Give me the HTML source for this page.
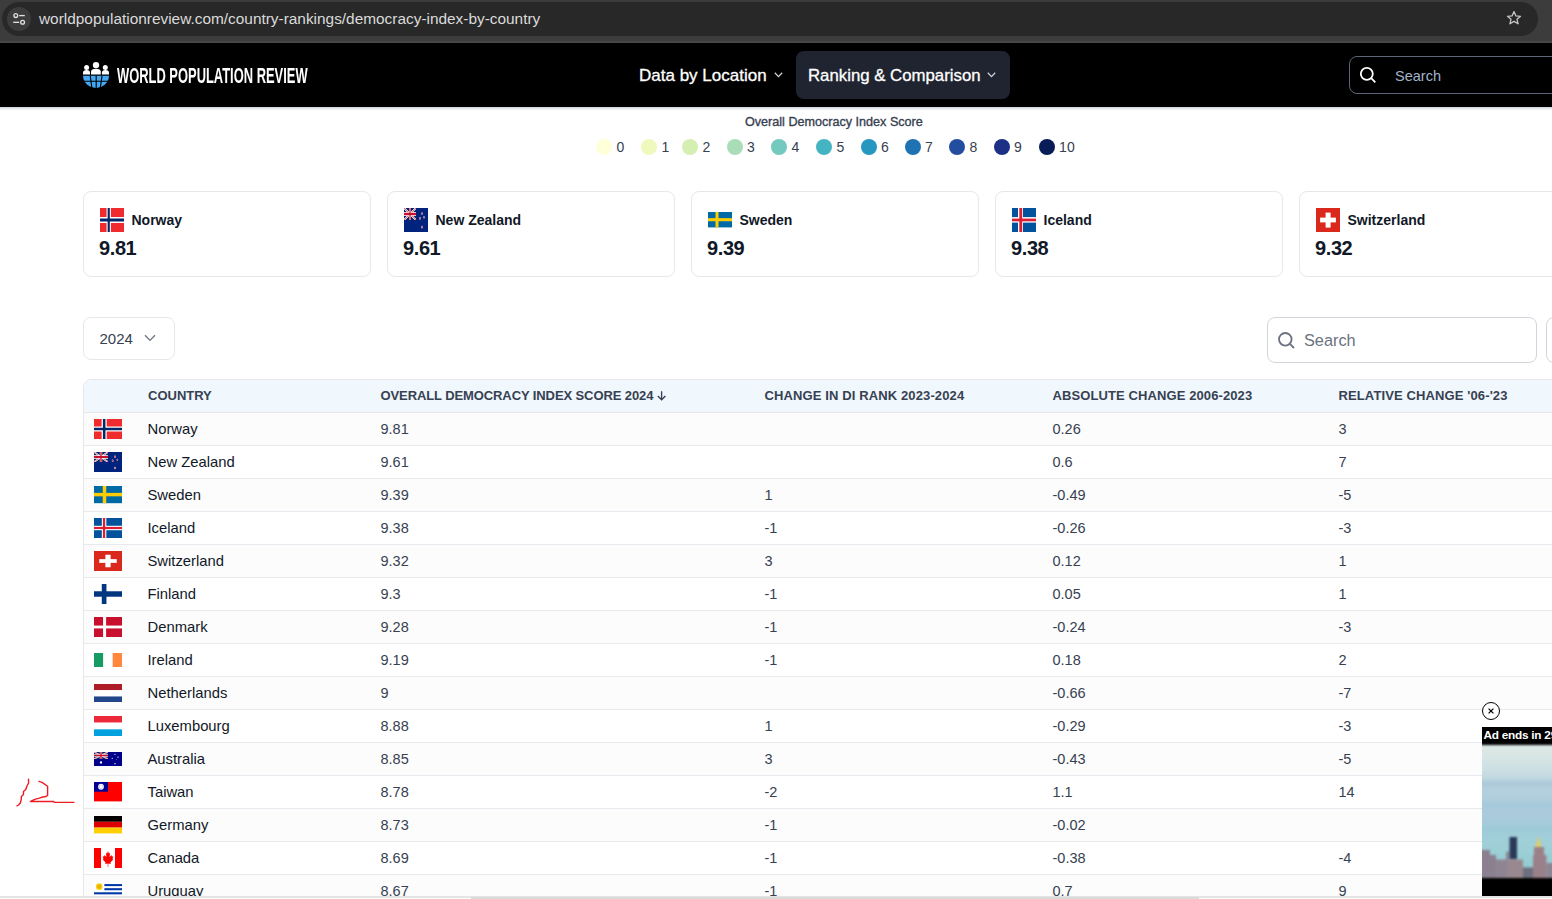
<!DOCTYPE html>
<html><head><meta charset="utf-8"><title>Democracy Index by Country</title><style>
*{box-sizing:border-box;margin:0;padding:0}
html,body{width:1552px;height:899px;overflow:hidden;background:#fff;font-family:"Liberation Sans",sans-serif}
.a{position:absolute}
.t{position:absolute;white-space:nowrap;line-height:1}
</style></head><body>
<div class="a" style="left:0;top:0;width:1552px;height:43px;background:#3c3c3c"></div>
<div class="a" style="left:0;top:41px;width:1552px;height:2px;background:#474747"></div>
<div class="a" style="left:2px;top:2px;width:1536px;height:34px;border-radius:17px;background:#282828"></div>
<div class="a" style="left:7px;top:7px;width:24px;height:24px;border-radius:12px;background:#3c3c3c"></div>
<svg class="a" style="left:11px;top:11px" width="16" height="16" viewBox="0 0 16 16"><circle cx="4.8" cy="4.6" r="1.9" fill="none" stroke="#e3e3e3" stroke-width="1.3"/><path d="M8.2 4.6H13.8" stroke="#e3e3e3" stroke-width="1.3"/><circle cx="11.6" cy="11.3" r="1.9" fill="none" stroke="#e3e3e3" stroke-width="1.3"/><path d="M2.2 11.3H8.2" stroke="#e3e3e3" stroke-width="1.3"/></svg>
<div class="t" style="left:39px;top:11px;font-size:15.4px;color:#dadada">worldpopulationreview.com/country-rankings/democracy-index-by-country</div>
<svg class="a" style="left:1506px;top:10px" width="16" height="16" viewBox="0 0 16 16"><path d="M8 1.6 L9.9 5.9 L14.5 6.3 L11 9.3 L12.1 13.8 L8 11.4 L3.9 13.8 L5 9.3 L1.5 6.3 L6.1 5.9 Z" fill="none" stroke="#c7c7c7" stroke-width="1.3" stroke-linejoin="round"/></svg>
<div class="a" style="left:0;top:43px;width:1552px;height:64px;background:#000"></div>
<div class="a" style="left:0;top:107px;width:1552px;height:4px;background:linear-gradient(#ccd1db,#e3e6ea 35%,#f9f9fa 75%,#fff)"></div>
<svg class="a" style="left:83px;top:61px" width="26" height="27" viewBox="0 0 26 27">
<circle cx="3.6" cy="6.4" r="2.5" fill="#fff"/><circle cx="13" cy="4.1" r="3.2" fill="#fff"/><circle cx="22.3" cy="6.4" r="2.5" fill="#fff"/>
<path d="M0 13.4 V11.6 Q0 9.1 3.5 9.1 Q7 9.1 7 11.6 V13.4 Z" fill="#fff"/>
<path d="M8 13.4 V10.6 Q8 7.7 12.9 7.7 Q17.8 7.7 17.8 10.6 V13.4 Z" fill="#fff"/>
<path d="M18.9 13.4 V11.6 Q18.9 9.1 22.45 9.1 Q26 9.1 26 11.6 V13.4 Z" fill="#fff"/>
<path d="M0 14.8 H26 A13 12.1 0 0 1 0 14.8 Z" fill="#42a8f4"/>
<path d="M0 20.2 H26 M7.25 14.8 L8.9 27 M13.2 14.8 V27 M19 14.8 L17.3 27" stroke="#000" stroke-width="1.15"/>
</svg>
<div class="t" style="left:117px;top:65px;font-size:22px;font-weight:bold;color:#fff;transform:scaleX(0.587);transform-origin:0 0;letter-spacing:0px">WORLD POPULATION REVIEW</div>
<div class="t" style="left:639px;top:67px;font-size:17px;font-weight:normal;color:#fff;-webkit-text-stroke:0.3px #fff">Data by Location</div>
<svg class="a" style="left:774px;top:72px" width="9" height="6" viewBox="0 0 9 6"><path d="M0.8 0.8 L4.5 4.6 L8.2 0.8" fill="none" stroke="#d1d5db" stroke-width="1.3"/></svg>
<div class="a" style="left:796px;top:51px;width:214px;height:48px;border-radius:8px;background:#1f2430"></div>
<div class="t" style="left:808px;top:68px;font-size:16.8px;color:#fff;-webkit-text-stroke:0.3px #fff">Ranking &amp; Comparison</div>
<svg class="a" style="left:987px;top:72px" width="9" height="6" viewBox="0 0 9 6"><path d="M0.8 0.8 L4.5 4.6 L8.2 0.8" fill="none" stroke="#d1d5db" stroke-width="1.3"/></svg>
<div class="a" style="left:1349px;top:56px;width:260px;height:38px;border-radius:8px;border:1px solid #5b6577"></div>
<svg class="a" style="left:1359px;top:66px" width="18" height="18" viewBox="0 0 18 18"><circle cx="7.8" cy="7.8" r="6" fill="none" stroke="#fff" stroke-width="1.8"/><path d="M12.2 12.2 L16.3 16.3" stroke="#fff" stroke-width="1.8"/></svg>
<div class="t" style="left:1395px;top:68.5px;font-size:14.5px;color:#a3b3cc">Search</div>
<div class="t" style="left:745px;top:116px;font-size:12.6px;color:#374151;-webkit-text-stroke:0.35px #374151">Overall Democracy Index Score</div>
<div class="a" style="left:596px;top:139px;width:16px;height:16px;border-radius:50%;background:#ffffd9"></div>
<div class="t" style="left:616.5px;top:140px;font-size:14px;color:#374151">0</div>
<div class="a" style="left:641px;top:139px;width:16px;height:16px;border-radius:50%;background:#eff9bd"></div>
<div class="t" style="left:661.5px;top:140px;font-size:14px;color:#374151">1</div>
<div class="a" style="left:682px;top:139px;width:16px;height:16px;border-radius:50%;background:#d5efb3"></div>
<div class="t" style="left:702.5px;top:140px;font-size:14px;color:#374151">2</div>
<div class="a" style="left:726.5px;top:139px;width:16px;height:16px;border-radius:50%;background:#a9ddb7"></div>
<div class="t" style="left:747.0px;top:140px;font-size:14px;color:#374151">3</div>
<div class="a" style="left:771px;top:139px;width:16px;height:16px;border-radius:50%;background:#73c9bd"></div>
<div class="t" style="left:791.5px;top:140px;font-size:14px;color:#374151">4</div>
<div class="a" style="left:816px;top:139px;width:16px;height:16px;border-radius:50%;background:#45b4c2"></div>
<div class="t" style="left:836.5px;top:140px;font-size:14px;color:#374151">5</div>
<div class="a" style="left:860.5px;top:139px;width:16px;height:16px;border-radius:50%;background:#2897bf"></div>
<div class="t" style="left:881.0px;top:140px;font-size:14px;color:#374151">6</div>
<div class="a" style="left:904.6px;top:139px;width:16px;height:16px;border-radius:50%;background:#2073b2"></div>
<div class="t" style="left:925.1px;top:140px;font-size:14px;color:#374151">7</div>
<div class="a" style="left:949px;top:139px;width:16px;height:16px;border-radius:50%;background:#234ea0"></div>
<div class="t" style="left:969.5px;top:140px;font-size:14px;color:#374151">8</div>
<div class="a" style="left:993.6px;top:139px;width:16px;height:16px;border-radius:50%;background:#1c3185"></div>
<div class="t" style="left:1014.1px;top:140px;font-size:14px;color:#374151">9</div>
<div class="a" style="left:1038.6px;top:139px;width:16px;height:16px;border-radius:50%;background:#081d58"></div>
<div class="t" style="left:1059.1px;top:140px;font-size:14px;color:#374151">10</div>
<div class="a" style="left:83px;top:191px;width:288px;height:86px;border:1px solid #e5e7eb;border-radius:8px;background:#fff"></div>
<div class="a" style="left:100px;top:208.0px"><svg width="24" height="24" viewBox="0 0 22 16" preserveAspectRatio="none" style="display:block"><rect width="22" height="16" fill="#ef2b2d"/><rect x="6" width="4" height="16" fill="#fff"/><rect y="6" width="22" height="4" fill="#fff"/><rect x="7" width="2" height="16" fill="#002868"/><rect y="7" width="22" height="2" fill="#002868"/></svg></div>
<div class="t" style="left:131.5px;top:213px;font-size:14px;font-weight:bold;color:#111827">Norway</div>
<div class="t" style="left:99px;top:238px;font-size:20px;font-weight:bold;color:#111827;letter-spacing:-0.4px">9.81</div>
<div class="a" style="left:387px;top:191px;width:288px;height:86px;border:1px solid #e5e7eb;border-radius:8px;background:#fff"></div>
<div class="a" style="left:404px;top:208.0px"><svg width="24" height="24" viewBox="0 0 120 60" preserveAspectRatio="none" style="display:block"><rect width="120" height="60" fill="#00247d"/><svg width="60" height="30" viewBox="0 0 60 30" preserveAspectRatio="none"><rect width="60" height="30" fill="#012169"/><path d="M0,0 L60,30 M60,0 L0,30" stroke="#fff" stroke-width="6"/><path d="M0,0 L60,30 M60,0 L0,30" stroke="#C8102E" stroke-width="2"/><path d="M30,0 V30 M0,15 H60" stroke="#fff" stroke-width="10"/><path d="M30,0 V30 M0,15 H60" stroke="#C8102E" stroke-width="6"/></svg><circle cx="90" cy="14" r="3.5" fill="#fff"/><circle cx="90" cy="14" r="2.5" fill="#cc142b"/><circle cx="80" cy="26" r="3.5" fill="#fff"/><circle cx="80" cy="26" r="2.5" fill="#cc142b"/><circle cx="100" cy="23" r="3" fill="#fff"/><circle cx="100" cy="23" r="2" fill="#cc142b"/><circle cx="90" cy="48" r="3.5" fill="#fff"/><circle cx="90" cy="48" r="2.5" fill="#cc142b"/></svg></div>
<div class="t" style="left:435.5px;top:213px;font-size:14px;font-weight:bold;color:#111827">New Zealand</div>
<div class="t" style="left:403px;top:238px;font-size:20px;font-weight:bold;color:#111827;letter-spacing:-0.4px">9.61</div>
<div class="a" style="left:691px;top:191px;width:288px;height:86px;border:1px solid #e5e7eb;border-radius:8px;background:#fff"></div>
<div class="a" style="left:708px;top:212.3px"><svg width="24" height="15.4" viewBox="0 0 16 10" preserveAspectRatio="none" style="display:block"><rect width="16" height="10" fill="#006aa7"/><rect x="5" width="2" height="10" fill="#fecc00"/><rect y="4" width="16" height="2" fill="#fecc00"/></svg></div>
<div class="t" style="left:739.5px;top:213px;font-size:14px;font-weight:bold;color:#111827">Sweden</div>
<div class="t" style="left:707px;top:238px;font-size:20px;font-weight:bold;color:#111827;letter-spacing:-0.4px">9.39</div>
<div class="a" style="left:995px;top:191px;width:288px;height:86px;border:1px solid #e5e7eb;border-radius:8px;background:#fff"></div>
<div class="a" style="left:1012px;top:208.0px"><svg width="24" height="24" viewBox="0 0 24 24" preserveAspectRatio="none" style="display:block"><rect width="24" height="24" fill="#02529c"/><rect x="6" width="5" height="24" fill="#fff"/><rect y="9.1" width="24" height="5.5" fill="#fff"/><rect x="7.3" width="2.9" height="24" fill="#dc1e35"/><rect y="10.6" width="24" height="2.7" fill="#dc1e35"/></svg></div>
<div class="t" style="left:1043.5px;top:213px;font-size:14px;font-weight:bold;color:#111827">Iceland</div>
<div class="t" style="left:1011px;top:238px;font-size:20px;font-weight:bold;color:#111827;letter-spacing:-0.4px">9.38</div>
<div class="a" style="left:1299px;top:191px;width:288px;height:86px;border:1px solid #e5e7eb;border-radius:8px;background:#fff"></div>
<div class="a" style="left:1316px;top:208.0px"><svg width="24" height="24" viewBox="0 0 24 24" preserveAspectRatio="none" style="display:block"><rect width="24" height="24" fill="#da291c"/><rect x="9.6" y="4.6" width="5" height="15" fill="#fff"/><rect x="4.1" y="9.6" width="15.8" height="4.8" fill="#fff"/></svg></div>
<div class="t" style="left:1347.5px;top:213px;font-size:14px;font-weight:bold;color:#111827">Switzerland</div>
<div class="t" style="left:1315px;top:238px;font-size:20px;font-weight:bold;color:#111827;letter-spacing:-0.4px">9.32</div>
<div class="a" style="left:83px;top:317px;width:92px;height:43px;border:1px solid #e5e7eb;border-radius:8px"></div>
<div class="t" style="left:99.5px;top:331px;font-size:15px;color:#374151">2024</div>
<svg class="a" style="left:144px;top:334px" width="12" height="8" viewBox="0 0 12 8"><path d="M1 1.2 L6 6.4 L11 1.2" fill="none" stroke="#6b7280" stroke-width="1.3"/></svg>
<div class="a" style="left:1267px;top:317px;width:270px;height:46px;border:1px solid #d1d5db;border-radius:8px"></div>
<svg class="a" style="left:1277px;top:331px" width="19" height="19" viewBox="0 0 19 19"><circle cx="8.3" cy="8.3" r="6.3" fill="none" stroke="#6b7280" stroke-width="1.8"/><path d="M12.9 12.9 L17 17" stroke="#6b7280" stroke-width="1.8"/></svg>
<div class="t" style="left:1304px;top:332px;font-size:16.3px;color:#6b7280">Search</div>
<div class="a" style="left:1546px;top:317px;width:20px;height:46px;border:1px solid #d1d5db;border-radius:8px"></div>
<div class="a" style="left:83px;top:379px;width:1500px;height:540px;border:1px solid #e5e7eb;border-radius:8px;overflow:hidden;background:#fff">
<div class="a" style="left:0;top:0;width:1500px;height:33px;background:#f0f7fd;border-bottom:1px solid #e5e7eb"></div>
<svg class="a" style="left:573px;top:11px" width="10" height="10" viewBox="0 0 10 10"><path d="M4.6 0.3 V8.6 M0.8 5 L4.6 8.8 L8.4 5" fill="none" stroke="#374151" stroke-width="1.35"/></svg>
<div class="t" style="left:64px;top:8.5px;font-size:13px;font-weight:bold;color:#374151;letter-spacing:0px">COUNTRY</div>
<div class="t" style="left:296.5px;top:8.5px;font-size:13px;font-weight:bold;color:#374151;letter-spacing:-0.1px">OVERALL DEMOCRACY INDEX SCORE 2024</div>
<div class="t" style="left:680.5px;top:8.5px;font-size:13px;font-weight:bold;color:#374151;letter-spacing:0.12px">CHANGE IN DI RANK 2023-2024</div>
<div class="t" style="left:968.5px;top:8.5px;font-size:13px;font-weight:bold;color:#374151;letter-spacing:0.1px">ABSOLUTE CHANGE 2006-2023</div>
<div class="t" style="left:1254.5px;top:8.5px;font-size:13px;font-weight:bold;color:#374151;letter-spacing:0.12px">RELATIVE CHANGE '06-'23</div>
<div class="a" style="left:0;top:33px;width:1500px;height:33px;background:#fcfcfc;border-bottom:1px solid #e8e9ee"></div>
<div class="a" style="left:10px;top:39.0px"><svg width="28" height="20" viewBox="0 0 22 16" preserveAspectRatio="none" style="display:block"><rect width="22" height="16" fill="#ef2b2d"/><rect x="6" width="4" height="16" fill="#fff"/><rect y="6" width="22" height="4" fill="#fff"/><rect x="7" width="2" height="16" fill="#002868"/><rect y="7" width="22" height="2" fill="#002868"/></svg></div>
<div class="t" style="left:63.5px;top:42px;font-size:14.8px;color:#111827">Norway</div>
<div class="t" style="left:296.5px;top:41.7px;font-size:14.5px;color:#374151">9.81</div>
<div class="t" style="left:680.5px;top:41.7px;font-size:14.5px;color:#374151"></div>
<div class="t" style="left:968.5px;top:41.7px;font-size:14.5px;color:#374151">0.26</div>
<div class="t" style="left:1254.5px;top:41.7px;font-size:14.5px;color:#374151">3</div>
<div class="a" style="left:0;top:66px;width:1500px;height:33px;background:#fff;border-bottom:1px solid #e8e9ee"></div>
<div class="a" style="left:10px;top:72.0px"><svg width="28" height="20" viewBox="0 0 120 60" preserveAspectRatio="none" style="display:block"><rect width="120" height="60" fill="#00247d"/><svg width="60" height="30" viewBox="0 0 60 30" preserveAspectRatio="none"><rect width="60" height="30" fill="#012169"/><path d="M0,0 L60,30 M60,0 L0,30" stroke="#fff" stroke-width="6"/><path d="M0,0 L60,30 M60,0 L0,30" stroke="#C8102E" stroke-width="2"/><path d="M30,0 V30 M0,15 H60" stroke="#fff" stroke-width="10"/><path d="M30,0 V30 M0,15 H60" stroke="#C8102E" stroke-width="6"/></svg><circle cx="90" cy="14" r="3.5" fill="#fff"/><circle cx="90" cy="14" r="2.5" fill="#cc142b"/><circle cx="80" cy="26" r="3.5" fill="#fff"/><circle cx="80" cy="26" r="2.5" fill="#cc142b"/><circle cx="100" cy="23" r="3" fill="#fff"/><circle cx="100" cy="23" r="2" fill="#cc142b"/><circle cx="90" cy="48" r="3.5" fill="#fff"/><circle cx="90" cy="48" r="2.5" fill="#cc142b"/></svg></div>
<div class="t" style="left:63.5px;top:75px;font-size:14.8px;color:#111827">New Zealand</div>
<div class="t" style="left:296.5px;top:74.7px;font-size:14.5px;color:#374151">9.61</div>
<div class="t" style="left:680.5px;top:74.7px;font-size:14.5px;color:#374151"></div>
<div class="t" style="left:968.5px;top:74.7px;font-size:14.5px;color:#374151">0.6</div>
<div class="t" style="left:1254.5px;top:74.7px;font-size:14.5px;color:#374151">7</div>
<div class="a" style="left:0;top:99px;width:1500px;height:33px;background:#fcfcfc;border-bottom:1px solid #e8e9ee"></div>
<div class="a" style="left:10px;top:106.4px"><svg width="28" height="17.2" viewBox="0 0 16 10" preserveAspectRatio="none" style="display:block"><rect width="16" height="10" fill="#006aa7"/><rect x="5" width="2" height="10" fill="#fecc00"/><rect y="4" width="16" height="2" fill="#fecc00"/></svg></div>
<div class="t" style="left:63.5px;top:108px;font-size:14.8px;color:#111827">Sweden</div>
<div class="t" style="left:296.5px;top:107.7px;font-size:14.5px;color:#374151">9.39</div>
<div class="t" style="left:680.5px;top:107.7px;font-size:14.5px;color:#374151">1</div>
<div class="t" style="left:968.5px;top:107.7px;font-size:14.5px;color:#374151">-0.49</div>
<div class="t" style="left:1254.5px;top:107.7px;font-size:14.5px;color:#374151">-5</div>
<div class="a" style="left:0;top:132px;width:1500px;height:33px;background:#fff;border-bottom:1px solid #e8e9ee"></div>
<div class="a" style="left:10px;top:138.0px"><svg width="28" height="20" viewBox="0 0 25 18" preserveAspectRatio="none" style="display:block"><rect width="25" height="18" fill="#02529c"/><rect x="7" width="4" height="18" fill="#fff"/><rect y="7" width="25" height="4" fill="#fff"/><rect x="8" width="2" height="18" fill="#dc1e35"/><rect y="8" width="25" height="2" fill="#dc1e35"/></svg></div>
<div class="t" style="left:63.5px;top:141px;font-size:14.8px;color:#111827">Iceland</div>
<div class="t" style="left:296.5px;top:140.7px;font-size:14.5px;color:#374151">9.38</div>
<div class="t" style="left:680.5px;top:140.7px;font-size:14.5px;color:#374151">-1</div>
<div class="t" style="left:968.5px;top:140.7px;font-size:14.5px;color:#374151">-0.26</div>
<div class="t" style="left:1254.5px;top:140.7px;font-size:14.5px;color:#374151">-3</div>
<div class="a" style="left:0;top:165px;width:1500px;height:33px;background:#fcfcfc;border-bottom:1px solid #e8e9ee"></div>
<div class="a" style="left:10px;top:171.0px"><svg width="28" height="20" viewBox="0 0 32 32" preserveAspectRatio="none" style="display:block"><rect width="32" height="32" fill="#da291c"/><rect x="13" y="6" width="6" height="20" fill="#fff"/><rect x="6" y="13" width="20" height="6" fill="#fff"/></svg></div>
<div class="t" style="left:63.5px;top:174px;font-size:14.8px;color:#111827">Switzerland</div>
<div class="t" style="left:296.5px;top:173.7px;font-size:14.5px;color:#374151">9.32</div>
<div class="t" style="left:680.5px;top:173.7px;font-size:14.5px;color:#374151">3</div>
<div class="t" style="left:968.5px;top:173.7px;font-size:14.5px;color:#374151">0.12</div>
<div class="t" style="left:1254.5px;top:173.7px;font-size:14.5px;color:#374151">1</div>
<div class="a" style="left:0;top:198px;width:1500px;height:33px;background:#fff;border-bottom:1px solid #e8e9ee"></div>
<div class="a" style="left:10px;top:204.0px"><svg width="28" height="20" viewBox="0 0 18 11" preserveAspectRatio="none" style="display:block"><rect width="18" height="11" fill="#fff"/><rect x="5" width="3" height="11" fill="#003580"/><rect y="4" width="18" height="3" fill="#003580"/></svg></div>
<div class="t" style="left:63.5px;top:207px;font-size:14.8px;color:#111827">Finland</div>
<div class="t" style="left:296.5px;top:206.7px;font-size:14.5px;color:#374151">9.3</div>
<div class="t" style="left:680.5px;top:206.7px;font-size:14.5px;color:#374151">-1</div>
<div class="t" style="left:968.5px;top:206.7px;font-size:14.5px;color:#374151">0.05</div>
<div class="t" style="left:1254.5px;top:206.7px;font-size:14.5px;color:#374151">1</div>
<div class="a" style="left:0;top:231px;width:1500px;height:33px;background:#fcfcfc;border-bottom:1px solid #e8e9ee"></div>
<div class="a" style="left:10px;top:237.0px"><svg width="28" height="20" viewBox="0 0 37 28" preserveAspectRatio="none" style="display:block"><rect width="37" height="28" fill="#c8102e"/><rect x="12" width="4" height="28" fill="#fff"/><rect y="12" width="37" height="4" fill="#fff"/></svg></div>
<div class="t" style="left:63.5px;top:240px;font-size:14.8px;color:#111827">Denmark</div>
<div class="t" style="left:296.5px;top:239.7px;font-size:14.5px;color:#374151">9.28</div>
<div class="t" style="left:680.5px;top:239.7px;font-size:14.5px;color:#374151">-1</div>
<div class="t" style="left:968.5px;top:239.7px;font-size:14.5px;color:#374151">-0.24</div>
<div class="t" style="left:1254.5px;top:239.7px;font-size:14.5px;color:#374151">-3</div>
<div class="a" style="left:0;top:264px;width:1500px;height:33px;background:#fff;border-bottom:1px solid #e8e9ee"></div>
<div class="a" style="left:10px;top:273.0px"><svg width="28" height="14" viewBox="0 0 3 2" preserveAspectRatio="none" style="display:block"><rect width="1" height="2" fill="#169b62"/><rect x="1" width="1" height="2" fill="#fff"/><rect x="2" width="1" height="2" fill="#ff883e"/></svg></div>
<div class="t" style="left:63.5px;top:273px;font-size:14.8px;color:#111827">Ireland</div>
<div class="t" style="left:296.5px;top:272.7px;font-size:14.5px;color:#374151">9.19</div>
<div class="t" style="left:680.5px;top:272.7px;font-size:14.5px;color:#374151">-1</div>
<div class="t" style="left:968.5px;top:272.7px;font-size:14.5px;color:#374151">0.18</div>
<div class="t" style="left:1254.5px;top:272.7px;font-size:14.5px;color:#374151">2</div>
<div class="a" style="left:0;top:297px;width:1500px;height:33px;background:#fcfcfc;border-bottom:1px solid #e8e9ee"></div>
<div class="a" style="left:10px;top:303.65px"><svg width="28" height="18.7" viewBox="0 0 3 3" preserveAspectRatio="none" style="display:block"><rect width="3" height="1" fill="#ae1c28"/><rect y="1" width="3" height="1" fill="#fff"/><rect y="2" width="3" height="1" fill="#21468b"/></svg></div>
<div class="t" style="left:63.5px;top:306px;font-size:14.8px;color:#111827">Netherlands</div>
<div class="t" style="left:296.5px;top:305.7px;font-size:14.5px;color:#374151">9</div>
<div class="t" style="left:680.5px;top:305.7px;font-size:14.5px;color:#374151"></div>
<div class="t" style="left:968.5px;top:305.7px;font-size:14.5px;color:#374151">-0.66</div>
<div class="t" style="left:1254.5px;top:305.7px;font-size:14.5px;color:#374151">-7</div>
<div class="a" style="left:0;top:330px;width:1500px;height:33px;background:#fff;border-bottom:1px solid #e8e9ee"></div>
<div class="a" style="left:10px;top:336.0px"><svg width="28" height="20" viewBox="0 0 3 3" preserveAspectRatio="none" style="display:block"><rect width="3" height="1" fill="#ed2939"/><rect y="1" width="3" height="1" fill="#fff"/><rect y="2" width="3" height="1" fill="#00a1de"/></svg></div>
<div class="t" style="left:63.5px;top:339px;font-size:14.8px;color:#111827">Luxembourg</div>
<div class="t" style="left:296.5px;top:338.7px;font-size:14.5px;color:#374151">8.88</div>
<div class="t" style="left:680.5px;top:338.7px;font-size:14.5px;color:#374151">1</div>
<div class="t" style="left:968.5px;top:338.7px;font-size:14.5px;color:#374151">-0.29</div>
<div class="t" style="left:1254.5px;top:338.7px;font-size:14.5px;color:#374151">-3</div>
<div class="a" style="left:0;top:363px;width:1500px;height:33px;background:#fcfcfc;border-bottom:1px solid #e8e9ee"></div>
<div class="a" style="left:10px;top:372.0px"><svg width="28" height="14" viewBox="0 0 120 60" preserveAspectRatio="none" style="display:block"><rect width="120" height="60" fill="#00008b"/><svg width="60" height="30" viewBox="0 0 60 30" preserveAspectRatio="none"><rect width="60" height="30" fill="#012169"/><path d="M0,0 L60,30 M60,0 L0,30" stroke="#fff" stroke-width="6"/><path d="M0,0 L60,30 M60,0 L0,30" stroke="#C8102E" stroke-width="2"/><path d="M30,0 V30 M0,15 H60" stroke="#fff" stroke-width="10"/><path d="M30,0 V30 M0,15 H60" stroke="#C8102E" stroke-width="6"/></svg><circle cx="30" cy="45" r="5" fill="#fff"/><circle cx="90" cy="50" r="3" fill="#fff"/><circle cx="78" cy="27" r="2.5" fill="#fff"/><circle cx="90" cy="10" r="2.5" fill="#fff"/><circle cx="103" cy="22" r="2.5" fill="#fff"/><circle cx="96" cy="33" r="1.5" fill="#fff"/></svg></div>
<div class="t" style="left:63.5px;top:372px;font-size:14.8px;color:#111827">Australia</div>
<div class="t" style="left:296.5px;top:371.7px;font-size:14.5px;color:#374151">8.85</div>
<div class="t" style="left:680.5px;top:371.7px;font-size:14.5px;color:#374151">3</div>
<div class="t" style="left:968.5px;top:371.7px;font-size:14.5px;color:#374151">-0.43</div>
<div class="t" style="left:1254.5px;top:371.7px;font-size:14.5px;color:#374151">-5</div>
<div class="a" style="left:0;top:396px;width:1500px;height:33px;background:#fff;border-bottom:1px solid #e8e9ee"></div>
<div class="a" style="left:10px;top:402.3px"><svg width="28" height="19.4" viewBox="0 0 30 20" preserveAspectRatio="none" style="display:block"><rect width="30" height="20" fill="#fe0000"/><rect width="15" height="10" fill="#000095"/><circle cx="7.5" cy="5" r="3.1" fill="#fff"/><circle cx="7.5" cy="5" r="1.9" fill="none" stroke="#000095" stroke-width="0.35" opacity="0.5"/></svg></div>
<div class="t" style="left:63.5px;top:405px;font-size:14.8px;color:#111827">Taiwan</div>
<div class="t" style="left:296.5px;top:404.7px;font-size:14.5px;color:#374151">8.78</div>
<div class="t" style="left:680.5px;top:404.7px;font-size:14.5px;color:#374151">-2</div>
<div class="t" style="left:968.5px;top:404.7px;font-size:14.5px;color:#374151">1.1</div>
<div class="t" style="left:1254.5px;top:404.7px;font-size:14.5px;color:#374151">14</div>
<div class="a" style="left:0;top:429px;width:1500px;height:33px;background:#fcfcfc;border-bottom:1px solid #e8e9ee"></div>
<div class="a" style="left:10px;top:436.3px"><svg width="28" height="17.4" viewBox="0 0 5 3" preserveAspectRatio="none" style="display:block"><rect width="5" height="1" fill="#000"/><rect y="1" width="5" height="1" fill="#dd0000"/><rect y="2" width="5" height="1" fill="#ffce00"/></svg></div>
<div class="t" style="left:63.5px;top:438px;font-size:14.8px;color:#111827">Germany</div>
<div class="t" style="left:296.5px;top:437.7px;font-size:14.5px;color:#374151">8.73</div>
<div class="t" style="left:680.5px;top:437.7px;font-size:14.5px;color:#374151">-1</div>
<div class="t" style="left:968.5px;top:437.7px;font-size:14.5px;color:#374151">-0.02</div>
<div class="t" style="left:1254.5px;top:437.7px;font-size:14.5px;color:#374151"></div>
<div class="a" style="left:0;top:462px;width:1500px;height:33px;background:#fff;border-bottom:1px solid #e8e9ee"></div>
<div class="a" style="left:10px;top:468.0px"><svg width="28" height="20" viewBox="0 0 40 20" preserveAspectRatio="none" style="display:block"><rect width="40" height="20" fill="#fff"/><rect width="10" height="20" fill="#ff0000"/><rect x="30" width="10" height="20" fill="#ff0000"/><path d="M20,3 L21.3,5.5 L23,5 L22.3,9 L25,7 L25.6,8.5 L27.5,8.2 L26.5,11 L27.5,11.6 L23.5,14.5 L24,16 L20.4,15.5 L20.4,19 L19.6,19 L19.6,15.5 L16,16 L16.5,14.5 L12.5,11.6 L13.5,11 L12.5,8.2 L14.4,8.5 L15,7 L17.7,9 L17,5 L18.7,5.5 Z" fill="#ff0000"/></svg></div>
<div class="t" style="left:63.5px;top:471px;font-size:14.8px;color:#111827">Canada</div>
<div class="t" style="left:296.5px;top:470.7px;font-size:14.5px;color:#374151">8.69</div>
<div class="t" style="left:680.5px;top:470.7px;font-size:14.5px;color:#374151">-1</div>
<div class="t" style="left:968.5px;top:470.7px;font-size:14.5px;color:#374151">-0.38</div>
<div class="t" style="left:1254.5px;top:470.7px;font-size:14.5px;color:#374151">-4</div>
<div class="a" style="left:0;top:495px;width:1500px;height:33px;background:#fcfcfc;border-bottom:1px solid #e8e9ee"></div>
<div class="a" style="left:10px;top:501.75px"><svg width="28" height="18.5" viewBox="0 0 27 18" preserveAspectRatio="none" style="display:block"><rect width="27" height="18" fill="#fff"/><rect x="10" y="2" width="17" height="2" fill="#0038a8"/><rect x="10" y="6" width="17" height="2" fill="#0038a8"/><rect y="10" width="27" height="2" fill="#0038a8"/><rect y="14" width="27" height="2" fill="#0038a8"/><circle cx="5" cy="4.5" r="3.2" fill="#fcd116"/><circle cx="5" cy="4.5" r="2" fill="#e8b000"/></svg></div>
<div class="t" style="left:63.5px;top:504px;font-size:14.8px;color:#111827">Uruguay</div>
<div class="t" style="left:296.5px;top:503.7px;font-size:14.5px;color:#374151">8.67</div>
<div class="t" style="left:680.5px;top:503.7px;font-size:14.5px;color:#374151">-1</div>
<div class="t" style="left:968.5px;top:503.7px;font-size:14.5px;color:#374151">0.7</div>
<div class="t" style="left:1254.5px;top:503.7px;font-size:14.5px;color:#374151">9</div>
</div>
<div class="a" style="left:1482px;top:702px;width:18px;height:18px;border-radius:50%;border:1.3px solid #000;background:#fff"></div>
<svg class="a" style="left:1487px;top:707px" width="8" height="8" viewBox="0 0 8 8"><path d="M1.6 1.6 L6.4 6.4 M6.4 1.6 L1.6 6.4" stroke="#000" stroke-width="1.3"/></svg>
<div class="a" style="left:1482px;top:727px;width:80px;height:169px;background:#000;overflow:hidden">
<div class="t" style="left:1.5px;top:3px;font-size:11.8px;font-weight:bold;color:#fff;letter-spacing:-0.25px">Ad ends in 29</div>
<svg class="a" style="left:-4px;top:18px;filter:blur(0.9px)" width="88" height="133" viewBox="-4 0 88 133">
<defs><linearGradient id="sky" x1="0" y1="0" x2="0" y2="1"><stop offset="0" stop-color="#dfe9e5"/><stop offset="0.15" stop-color="#d2e3e4"/><stop offset="0.35" stop-color="#b4d0de"/><stop offset="0.55" stop-color="#a9cbdc"/><stop offset="0.75" stop-color="#9fd0d8"/><stop offset="1" stop-color="#8fcad0"/></linearGradient>
<filter id="bl" x="-10%" y="-10%" width="120%" height="120%"><feGaussianBlur stdDeviation="0.7"/></filter>
<filter id="bl2" x="-50%" y="-50%" width="200%" height="200%"><feGaussianBlur stdDeviation="2.5"/></filter></defs>
<rect x="-4" width="88" height="133" fill="url(#sky)"/>
<g filter="url(#bl2)" opacity="0.5"><rect x="-10" y="36" width="100" height="5" fill="#8fb6d2"/><rect x="-10" y="58" width="100" height="4" fill="#92bcd6"/><rect x="-10" y="20" width="100" height="3" fill="#c4dbe3"/><rect x="-10" y="82" width="100" height="4" fill="#86c4cf"/></g>
<g>
<path d="M-4 105 H8 V110 H14 V133 H-4 Z" fill="#8a8090"/>
<path d="M14 114.5 H24 V107.5 L27 106 L27 133 H14 Z" fill="#8f8592"/>
<rect x="27.5" y="92" width="7.5" height="22" fill="#2b3958"/>
<rect x="25" y="114.5" width="16" height="18.5" fill="#9a8890"/>
<rect x="41" y="122.5" width="11" height="10.5" fill="#6d6f7e"/>
<path d="M53 103 L56.5 91.3 L59.5 103 Z" fill="#e3cb6a"/>
<rect x="52" y="102" width="10" height="31" fill="#9b8088"/>
<rect x="51" y="110" width="13.5" height="23" fill="#9a8089"/>
<rect x="64.5" y="118" width="15.5" height="15" fill="#8d8592"/>
<rect x="78" y="80" width="1.5" height="40" fill="#c0cfd4"/>
</g>
</svg>
</div>
<div class="a" style="left:0;top:896px;width:1552px;height:3px;background:#fdfdfd"></div>
<div class="a" style="left:0;top:896px;width:1552px;height:2px;background:#e4e4e4"></div>
<div class="a" style="left:471px;top:897px;width:728px;height:2px;background:#dadada"></div>
<svg class="a" style="left:0;top:770px" width="90" height="45" viewBox="0 770 90 45"><g fill="none" stroke="#ec1c24" stroke-width="1.4" stroke-linejoin="round" stroke-linecap="round">
<path d="M28.5 779.1 L28.6 783 L27 786 L25.7 789.5 L23.5 791.5 L23.5 794.5 L21.4 796.5 L21.2 799.8 L20.3 803 L18.5 805 L17 805.8"/>
<path d="M39 781.3 L42 782.4 L47.6 786.3 L47.6 795.4 L46 796.5 L41.5 797.3 L38.5 798.3 L35.5 799.2 L32 800.6 L30.3 801.5 L53.6 801.5 L54.5 802.4 L73.9 802.4"/>
</g></svg>
</body></html>
